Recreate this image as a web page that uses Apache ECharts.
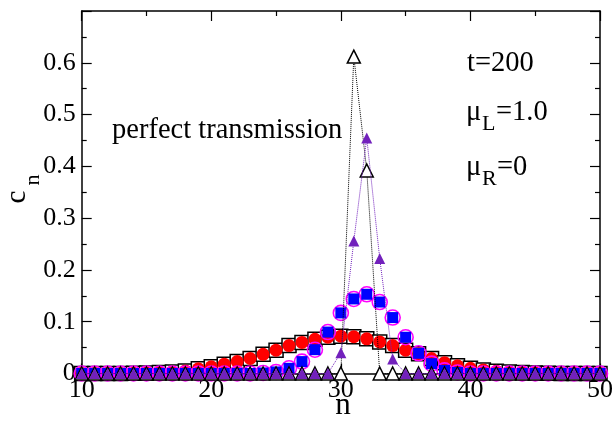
<!DOCTYPE html>
<html>
<head>
<meta charset="utf-8">
<script src="https://cdn.jsdelivr.net/npm/echarts@6/dist/echarts.min.js"></script>
<style>
html,body{margin:0;padding:0;background:#fff;}
#chart{width:616px;height:421px;}
</style>
</head>
<body>
<div id="chart"></div>
<script>
// site index n
const nValues = [10,11,12,13,14,15,16,17,18,19,20,21,22,23,24,25,26,27,28,29,30,31,32,33,34,35,36,37,38,39,40,41,42,43,44,45,46,47,48,49,50];
// red circles / black squares
const redValues = [0,0,0,0,0.0005,0.001,0.002,0.003,0.005,0.009,0.013,0.018,0.023,0.029,0.037,0.045,0.054,0.060,0.066,0.070,0.072,0.071,0.067,0.061,0.054,0.045,0.038,0.029,0.021,0.015,0.010,0.007,0.0045,0.003,0.002,0.001,0.0005,0,0,0,0];
// blue squares / magenta circles
const blueValues = [0,0,0,0,0,0,0,0,0,0,0,0,0,0,0.001,0.003,0.010,0.023,0.046,0.080,0.117,0.144,0.153,0.138,0.108,0.070,0.039,0.019,0.006,0.002,0,0,0,0,0,0,0,0,0,0,0];
// black open triangles
const blackTriValues = [0,0,0,0,0,0,0,0,0,0,0,0,0,0,0,0,0,0,0,0,0,0.612,0.392,0,0,0,0,0,0,0,0,0,0,0,0,0,0,0,0,0,0];
// purple filled triangles
const purpleTriValues = [0,0,0,0,0,0,0,0,0,0,0,0,0,0,0,0,0,0,0,0,0.040,0.256,0.455,0.222,0.028,0,0,0,0,0,0,0,0,0,0,0,0,0,0,0,0];
const xTicks = [10,20,30,40,50];
const yTicks = [0,0.1,0.2,0.3,0.4,0.5,0.6];

const pairs = arr => nValues.map((n,i)=>[n,arr[i]]);
const FONT = 'Liberation Serif';

const chart = echarts.init(document.getElementById('chart'), null, {renderer:'canvas'});

const xBase = {
  type:'value', min:10, max:50, interval:10,
  axisLine:{show:true, onZero:false, lineStyle:{color:'#000', width:1.5}},
  axisTick:{show:true, inside:true, length:10, lineStyle:{color:'#000', width:1.2}},
  minorTick:{show:true, splitNumber:2, length:5, lineStyle:{color:'#000', width:1.2}},
  splitLine:{show:false}, minorSplitLine:{show:false}
};
const yBase = {
  type:'value', min:0, max:0.7, interval:0.1,
  axisLine:{show:true, onZero:false, lineStyle:{color:'#000', width:1.5}},
  axisTick:{show:true, inside:true, length:10, lineStyle:{color:'#000', width:1.2}},
  minorTick:{show:true, splitNumber:2, length:5, lineStyle:{color:'#000', width:1.2}},
  splitLine:{show:false}, minorSplitLine:{show:false}
};

const option = {
  animation:false,
  backgroundColor:'#fff',
  grid:{left:81.7, right:14.3, top:11, bottom:47.5, containLabel:false},
  xAxis:[
    Object.assign({}, xBase, {position:'bottom',
      axisLabel:{show:true, fontFamily:FONT, fontSize:26, color:'#000', margin:4,
        formatter: v => xTicks.includes(v) ? String(v) : ''}}),
    Object.assign({}, xBase, {position:'top', axisLabel:{show:false}})
  ],
  yAxis:[
    Object.assign({}, yBase, {position:'left',
      axisLabel:{show:true, fontFamily:FONT, fontSize:26, color:'#000', margin:6, showMaxLabel:false,
        formatter: v => { const t = yTicks.find(k=>Math.abs(k-v)<1e-9); return t===undefined ? '' : (t===0 ? '0' : t.toFixed(1)); }}}),
    Object.assign({}, yBase, {position:'right', axisLabel:{show:false}})
  ],
  graphic:[
    {type:'text', x:112, y:131, style:{text:'perfect transmission', font:'28.5px "Liberation Serif"', fill:'#000', verticalAlign:'middle', align:'left'}},
    {type:'text', x:467, y:64, style:{text:'t=200', font:'28.5px "Liberation Serif"', fill:'#000', verticalAlign:'middle', align:'left'}},
    {type:'text', x:466, y:113, style:{text:'μ', font:'28.5px "Liberation Serif"', fill:'#000', verticalAlign:'middle', align:'left'}},
    {type:'text', x:482, y:124, style:{text:'L', font:'22px "Liberation Serif"', fill:'#000', verticalAlign:'middle', align:'left'}},
    {type:'text', x:496, y:113, style:{text:'=1.0', font:'28.5px "Liberation Serif"', fill:'#000', verticalAlign:'middle', align:'left'}},
    {type:'text', x:466, y:168, style:{text:'μ', font:'28.5px "Liberation Serif"', fill:'#000', verticalAlign:'middle', align:'left'}},
    {type:'text', x:482, y:179, style:{text:'R', font:'22px "Liberation Serif"', fill:'#000', verticalAlign:'middle', align:'left'}},
    {type:'text', x:497, y:168, style:{text:'=0', font:'28.5px "Liberation Serif"', fill:'#000', verticalAlign:'middle', align:'left'}},
    {type:'text', x:343, y:406, style:{text:'n', font:'31px "Liberation Serif"', fill:'#000', verticalAlign:'middle', align:'center'}},
    {type:'text', x:17, y:197, rotation:Math.PI/2, style:{text:'c', font:'29px "Liberation Serif"', fill:'#000', verticalAlign:'middle', align:'center'}},
    {type:'text', x:33, y:180, rotation:Math.PI/2, style:{text:'n', font:'22px "Liberation Serif"', fill:'#000', verticalAlign:'middle', align:'center'}}
  ],
  series:[
    {type:'scatter', name:'squares', data:pairs(redValues), symbol:'rect', symbolSize:14,
      itemStyle:{color:'#fff', borderColor:'#000', borderWidth:1.5, opacity:1}, z:2},
    {type:'scatter', name:'red', data:pairs(redValues), symbol:'circle', symbolSize:13,
      itemStyle:{color:'#ff0000', borderWidth:0, opacity:1}, z:3},
    {type:'scatter', name:'magenta', data:pairs(blueValues), symbol:'circle', symbolSize:15,
      itemStyle:{color:'transparent', borderColor:'#ff00ff', borderWidth:1.6, opacity:1}, z:4},
    {type:'scatter', name:'blue', data:pairs(blueValues), symbol:'rect', symbolSize:11,
      itemStyle:{color:'#0000ff', borderWidth:0, opacity:1}, z:5},
    {type:'line', name:'blackTri', data:pairs(blackTriValues), symbol:'triangle', symbolSize:13, showSymbol:true, showAllSymbol:true,
      lineStyle:{color:'#000', width:1, type:'dotted'},
      itemStyle:{color:'#fff', borderColor:'#000', borderWidth:1.5, opacity:1}, z:6},
    {type:'line', name:'purpleTri', data:pairs(purpleTriValues), symbol:'triangle', symbolSize:11, showSymbol:true, showAllSymbol:true,
      lineStyle:{color:'#7221bc', width:1, type:'dotted'},
      itemStyle:{color:'#7221bc', borderWidth:0, opacity:1}, z:7}
  ]
};
chart.setOption(option);
</script>
</body>
</html>
